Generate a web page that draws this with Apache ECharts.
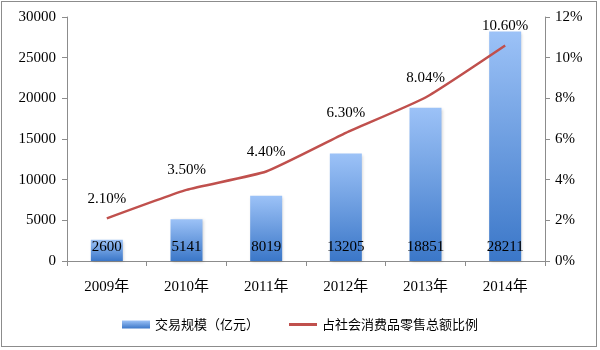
<!DOCTYPE html>
<html>
<head>
<meta charset="utf-8">
<script src="https://cdn.jsdelivr.net/npm/echarts@6/dist/echarts.min.js"></script>
<style>
  html, body { margin: 0; padding: 0; background: #fff; }
  #frame { position: absolute; left: 1px; top: 1px; width: 596px; height: 346px; border: 1px solid #8c8c8c; box-sizing: border-box; }
  #chart { width: 600px; height: 350px; }
</style>
</head>
<body>
<div id="chart"></div>
<div id="frame"></div>
<script>
const years = ['2009年', '2010年', '2011年', '2012年', '2013年', '2014年'];
const tradeScale = [2600, 5141, 8019, 13205, 18851, 28211];
const retailShare = [2.10, 3.50, 4.40, 6.30, 8.04, 10.60];
const barName = '交易规模（亿元）';
const lineName = '占社会消费品零售总额比例';

const serif = '"Liberation Serif", "Times New Roman", "Noto Sans CJK SC", serif';
const axisGray = '#8c8c8c';
const lineRed = '#c0504d';

const chart = echarts.init(document.getElementById('chart'));
chart.setOption({
  animation: false,
  grid: { left: 67, right: 55, top: 17, bottom: 89 },
  legend: {
    bottom: 14,
    left: 'center',
    itemGap: 30,
    itemWidth: 28,
    itemHeight: 8,
    textStyle: { fontFamily: '"Noto Sans CJK SC", sans-serif', fontSize: 13, color: '#000' },
    data: [
      { name: barName, icon: 'rect' },
      { name: lineName, icon: 'path://M0,0 L28,0 L28,3 L0,3 Z', itemStyle: { color: lineRed, opacity: 1 } }
    ]
  },
  xAxis: {
    type: 'category',
    data: years,
    axisLine: { lineStyle: { color: axisGray } },
    axisTick: { show: true, length: 5, lineStyle: { color: axisGray } },
    axisLabel: { fontFamily: serif, fontSize: 15, color: '#000', margin: 19 }
  },
  yAxis: [
    {
      type: 'value', min: 0, max: 30000, interval: 5000,
      axisLine: { show: true, lineStyle: { color: axisGray } },
      axisTick: { show: true, length: 5, lineStyle: { color: axisGray } },
      splitLine: { show: false },
      axisLabel: { fontFamily: serif, fontSize: 15, color: '#000', margin: 11, formatter: v => String(v) }
    },
    {
      type: 'value', min: 0, max: 12, interval: 2,
      axisLine: { show: true, lineStyle: { color: axisGray } },
      axisTick: { show: true, length: 5, lineStyle: { color: axisGray } },
      splitLine: { show: false },
      axisLabel: { fontFamily: serif, fontSize: 15, color: '#000', margin: 10, formatter: '{value}%' }
    }
  ],
  series: [
    {
      name: barName,
      type: 'bar',
      data: tradeScale,
      barWidth: 32,
      itemStyle: {
        color: new echarts.graphic.LinearGradient(0, 0, 0, 1, [
          { offset: 0, color: '#9cc2f7' },
          { offset: 1, color: '#3b77c8' }
        ]),
        shadowColor: 'rgba(0,0,0,0.18)',
        shadowBlur: 3,
        shadowOffsetX: 1,
        shadowOffsetY: 1
      },
      label: {
        show: true,
        position: 'insideBottom',
        distance: 6,
        fontFamily: serif,
        fontSize: 15,
        color: '#000'
      }
    },
    {
      name: lineName,
      type: 'line',
      yAxisIndex: 1,
      data: retailShare,
      smooth: 0.15,
      symbol: 'circle',
      symbolSize: 2,
      lineStyle: { color: lineRed, width: 2.5 },
      itemStyle: { color: 'rgba(0,0,0,0)', borderWidth: 0 },
      label: {
        show: true,
        position: 'top',
        distance: 11,
        fontFamily: serif,
        fontSize: 15,
        color: '#000',
        formatter: p => Number(p.value).toFixed(2) + '%'
      }
    }
  ]
});
</script>
</body>
</html>
